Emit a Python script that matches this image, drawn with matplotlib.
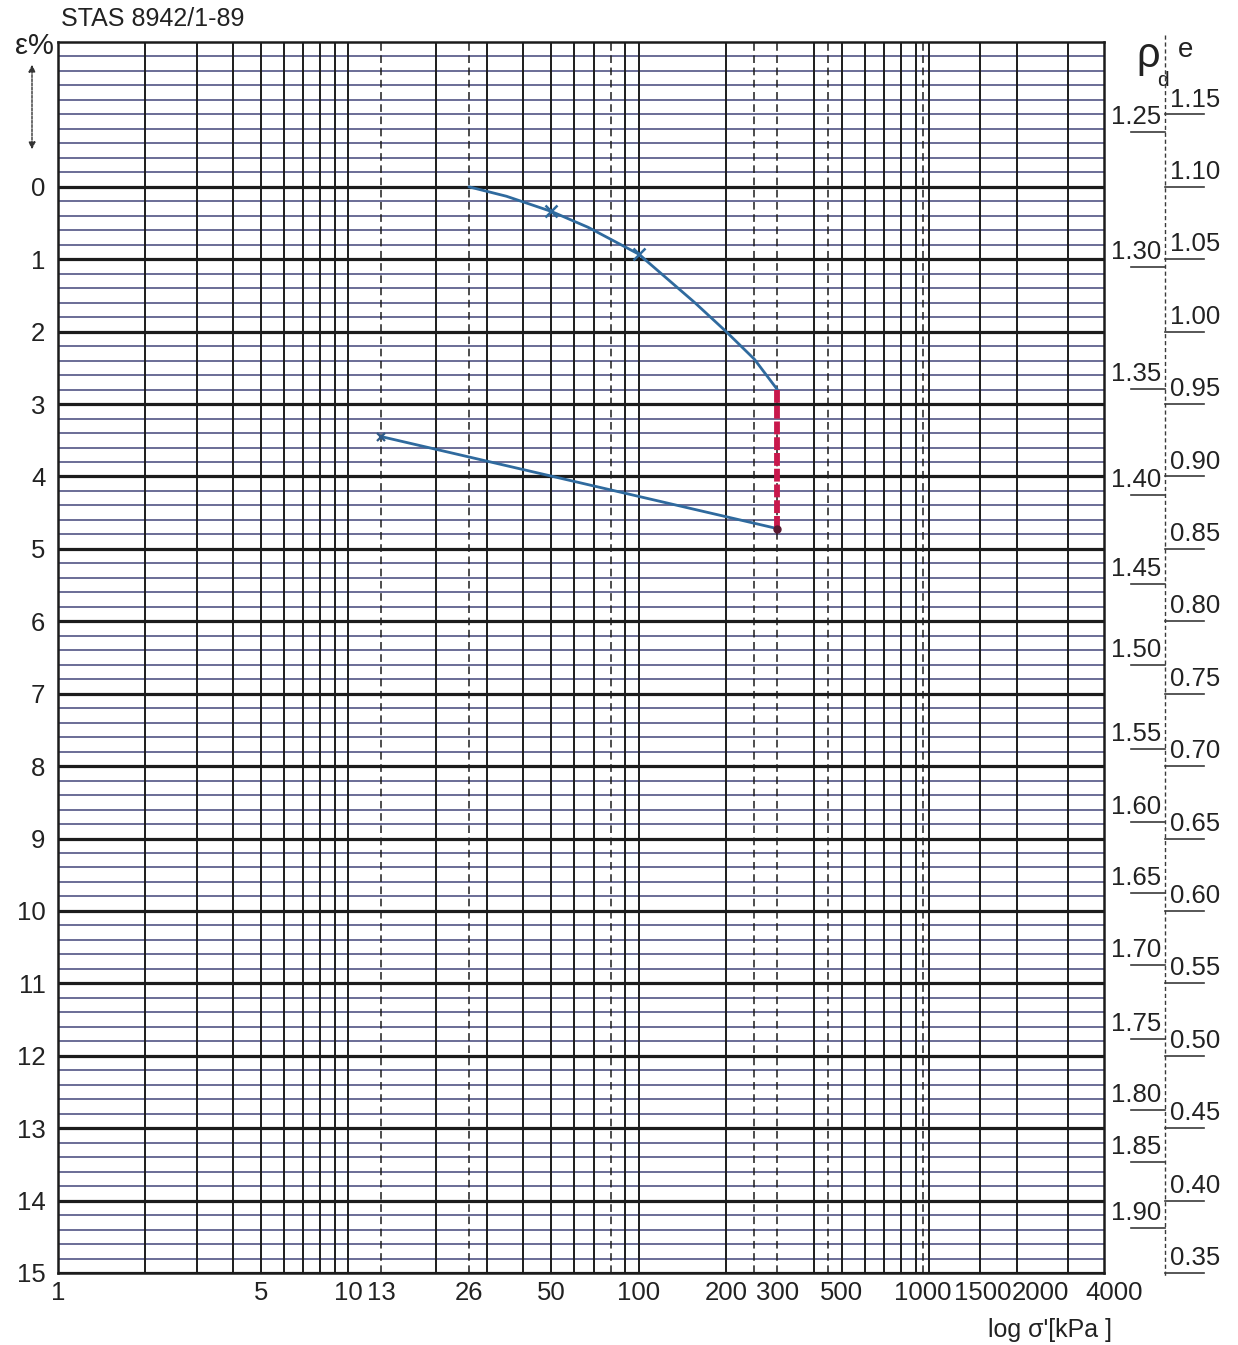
import numpy as np
import matplotlib.pyplot as plt
from matplotlib import transforms

# --- oedometer curve (pressure in kPa, strain in %) ---
loading_sigma = [26, 35, 50, 67, 100, 156, 200, 250, 300]
loading_strain = [0.0, 0.13, 0.34, 0.56, 0.93, 1.6, 2.0, 2.38, 2.8]
marked_sigma = [50, 100]
marked_strain = [0.34, 0.93]
creep_sigma = [300, 300]
creep_strain = [2.8, 4.72]
unload_sigma = [300, 13]
unload_strain = [4.72, 3.45]

# --- axis scales of the form ---
strain_ticks = list(range(0, 16))
pressure_ticks = [1, 5, 10, 13, 26, 50, 100, 200, 300, 500, 1000, 1500, 2000, 4000]
pressure_grid = [2, 3, 4, 5, 6, 7, 8, 9, 10, 20, 30, 40, 50, 60, 70, 90,
                 100, 200, 400, 500, 600, 700, 800, 900, 1000, 1500, 2000, 3000]
pressure_grid_dashed = [13, 26, 80, 250, 300, 450, 950]
void_ratio_ticks = [1.15, 1.10, 1.05, 1.00, 0.95, 0.90, 0.85, 0.80, 0.75,
                    0.70, 0.65, 0.60, 0.55, 0.50, 0.45, 0.40, 0.35]
density_ticks = [1.25, 1.30, 1.35, 1.40, 1.45, 1.50, 1.55, 1.60, 1.65,
                 1.70, 1.75, 1.80, 1.85, 1.90]
density_at_strain = [-0.76, 1.11, 2.79, 4.25, 5.48, 6.60, 7.76, 8.77, 9.75,
                     10.75, 11.77, 12.75, 13.47, 14.38]


def strain_of_void_ratio(e):
    return (1.10 - e) / 0.05


plt.rcParams['font.family'] = ['Liberation Sans', 'DejaVu Sans']
TXT = '#222222'
W, H = 1238, 1345
fig = plt.figure(figsize=(W / 100, H / 100), dpi=100)
fig.patch.set_facecolor('white')

L, R, T, B = 58, 1104, 42, 1273
ax = fig.add_axes([L / W, 1 - B / H, (R - L) / W, (B - T) / H])
ax.set_xscale('log')
ax.set_xlim(1, 4000)
ax.set_ylim(15, -2)

# grid of the form
for y in np.arange(-2, 15.001, 0.2):
    if abs(y - round(y)) > 1e-6 or round(y) < 0:
        ax.axhline(y, color='#4a4c7e', lw=1.15, zorder=1)
for y in strain_ticks:
    ax.axhline(y, color='#1c1c1c', lw=2.3, zorder=2)
for x in pressure_grid:
    ax.axvline(x, color='#1c1c1c', lw=1.4, zorder=2)
for x in pressure_grid_dashed:
    ax.axvline(x, color='#1c1c1c', lw=1.1, ls=(0, (5, 3)), zorder=2)

for s in ax.spines.values():
    s.set_color('#1c1c1c')
    s.set_linewidth(1.8)

# curves
ax.plot(loading_sigma, loading_strain, color='#2f6a9e', lw=2.0, zorder=5,
        solid_capstyle='round')
ax.plot(marked_sigma, marked_strain, ls='none', marker='x', ms=9, mew=1.8,
        color='#2f6a9e', zorder=6)
ax.plot(unload_sigma, unload_strain, color='#2f6a9e', lw=2.0, zorder=5)
ax.plot(unload_sigma[-1:], unload_strain[-1:], ls='none', marker='x', ms=6,
        mew=1.6, color='#2f5a86', zorder=6)
ax.plot(creep_sigma, creep_strain, color='#c8184c', lw=4.2,
        ls=(0, (2.2, 0.5)), zorder=6)
ax.plot(creep_sigma[-1:], creep_strain[-1:], ls='none', marker='o', ms=5,
        color='#5a1830', zorder=7)

# ticks
ax.set_yticks(strain_ticks)
ax.set_yticklabels([str(v) for v in strain_ticks])
ax.set_xticks(pressure_ticks)
ax.set_xticklabels([str(v) for v in pressure_ticks])
ax.minorticks_off()
ax.tick_params(axis='both', length=0, labelsize=18.5, labelcolor=TXT)
ax.tick_params(axis='y', pad=9)
ax.tick_params(axis='x', pad=6)
shift = {1000: -6, 1500: 2, 2000: 24, 4000: 10}
for val, lab in zip(pressure_ticks, ax.get_xticklabels()):
    dx = shift.get(val, 0)
    if dx:
        lab.set_transform(lab.get_transform() +
                          transforms.ScaledTranslation(dx / 100, 0, fig.dpi_scale_trans))

# header and axis titles
fig.text(61 / W, 1 - 19 / H, 'STAS 8942/1-89', fontsize=18, color=TXT,
         ha='left', va='center')
fig.text(34 / W, 1 - 46 / H, 'ε%', fontsize=21, color=TXT, ha='center', va='center')
ax.annotate('', xy=(32 / W, 1 - 152 / H), xytext=(32 / W, 1 - 62 / H),
            xycoords='figure fraction', textcoords='figure fraction',
            arrowprops=dict(arrowstyle='<|-|>', color='#333333', lw=1.0,
                            mutation_scale=10, ls=(0, (2, 1))))
fig.text(1050 / W, 1 - 1330 / H, "log σ'[kPa ]", fontsize=18, color=TXT,
         ha='center', va='center')

# density and void-ratio scales on the right
ax2 = fig.add_axes([R / W, 1 - B / H, (W - R) / W, (B - T) / H])
ax2.set_xlim(0, W - R)
ax2.set_ylim(15, -2)
ax2.axis('off')
ax2.plot([61, 61], [-2.1, 15.05], color='#3a3a3a', lw=1.0, ls=(0, (3, 2)),
         clip_on=False)
for v, y in zip(density_ticks, density_at_strain):
    ax2.plot([27, 61], [y, y], color='#3a3a3a', lw=1.2, clip_on=False)
    ax2.text(57, y - 0.04, f'{v:.2f}', fontsize=18.5, color=TXT, ha='right',
             va='bottom')
for v in void_ratio_ticks:
    y = strain_of_void_ratio(v)
    ax2.plot([61, 100], [y, y], color='#3a3a3a', lw=1.2, clip_on=False)
    ax2.text(66, y - 0.04, f'{v:.2f}', fontsize=18.5, color=TXT, ha='left',
             va='bottom')
fig.text(1148 / W, 1 - 56 / H, 'ρ', fontsize=30, color=TXT, ha='center', va='center')
fig.text(1163 / W, 1 - 80 / H, 'd', fontsize=15, color=TXT, ha='center', va='center')
fig.text(1186 / W, 1 - 50 / H, 'e', fontsize=20, color=TXT, ha='center', va='center')

fig.savefig('out.png', dpi=100, facecolor='white')
